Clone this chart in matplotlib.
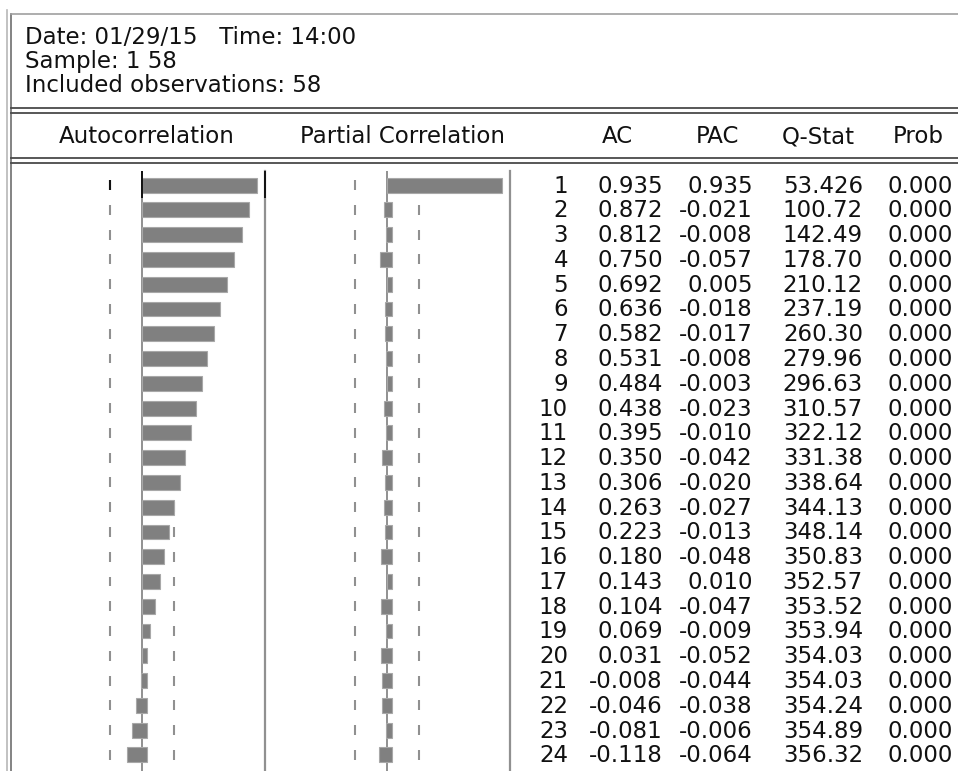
import numpy as np
import matplotlib
matplotlib.use("Agg")
import matplotlib.pyplot as plt

# ---------------- data ----------------
lags = list(range(1, 25))
ac = [0.935, 0.872, 0.812, 0.750, 0.692, 0.636, 0.582, 0.531, 0.484, 0.438,
      0.395, 0.350, 0.306, 0.263, 0.223, 0.180, 0.143, 0.104, 0.069, 0.031,
      -0.008, -0.046, -0.081, -0.118]
pac = [0.935, -0.021, -0.008, -0.057, 0.005, -0.018, -0.017, -0.008, -0.003, -0.023,
       -0.010, -0.042, -0.020, -0.027, -0.013, -0.048, 0.010, -0.047, -0.009, -0.052,
       -0.044, -0.038, -0.006, -0.064]
qstat = [53.426, 100.72, 142.49, 178.70, 210.12, 237.19, 260.30, 279.96, 296.63, 310.57,
         322.12, 331.38, 338.64, 344.13, 348.14, 350.83, 352.57, 353.52, 353.94, 354.03,
         354.03, 354.24, 354.89, 356.32]
prob = [0.000] * 24
n_obs = 58
header_lines = ["Date: 01/29/15   Time: 14:00", "Sample: 1 58", "Included observations: 58"]
col_titles = ["Autocorrelation", "Partial Correlation", "AC", "PAC", "Q-Stat", "Prob"]

# ---------------- style ----------------
plt.rcParams['font.family'] = ['DejaVu Sans']
FS = 16.5
W, H = 958, 771
BAR = "#808080"
EDGE = "#a8a8a8"
GRID = "#909090"
band = 2.0 / np.sqrt(n_obs)
ylim = (24.65, 0.43)
pad = 0.04

fig = plt.figure(figsize=(W / 100, H / 100), dpi=100)
fig.patch.set_facecolor("white")

# overlay for frame & header (pixel coordinates)
ov = fig.add_axes([0, 0, 1, 1], zorder=0)
ov.set_xlim(0, W)
ov.set_ylim(H, 0)
ov.axis("off")

ov.plot([7, 7], [10, H], color="#b8b8b8", lw=1.2)
ov.plot([11, 11], [14, H], color="#6e6e6e", lw=1.2)
ov.plot([7, W], [10, 10], color="#ffffff", lw=0)
ov.plot([11, W], [14, 14], color="#a0a0a0", lw=1.2)
for yy in (108, 113, 158, 162.5):
    ov.plot([11, W], [yy, yy], color="#4a4a4a", lw=1.3)

for i, t in enumerate(header_lines):
    ov.text(25, 44 + 24 * i, t, fontsize=FS, ha="left", va="baseline", color="#111111")

title_x = [147, 403, 617, 717, 818, 918]
for tx, t in zip(title_x, col_titles):
    ov.text(tx, 143, t, fontsize=FS, ha="center", va="baseline", color="#111111")


def panel(left_px, right_px, vals, first_black):
    top_px = 171
    ax = fig.add_axes([left_px / W, 0, (right_px - left_px) / W, (H - top_px) / H], zorder=2)
    ax.set_xlim(-1, 1)
    ax.set_ylim(*ylim)
    ax.axis("off")
    ax.patch.set_visible(False)
    # zero line and right separator
    ax.axvline(0, color=GRID, lw=1.4, zorder=1)
    ax.axvline(1, color=GRID, lw=1.6, zorder=1, clip_on=False)
    # confidence band dashes
    ax.vlines([-band] * len(lags), [l - 0.2 for l in lags], [l + 0.2 for l in lags],
              color=GRID, lw=1.5, zorder=1)
    ax.vlines([band] * len(lags), [l - 0.2 for l in lags], [l + 0.2 for l in lags],
              color=GRID, lw=1.5, zorder=1)
    if first_black:
        ax.vlines([-band], [lags[0] - 0.2], [lags[0] + 0.2], color="#111111", lw=1.5, zorder=3)
        ax.vlines([0, 1], [ylim[1]] * 2, [lags[0] + 0.5] * 2, color="#111111", lw=1.4,
                  zorder=3, clip_on=False)
    lefts = [min(v, 0.0) for v in vals]
    rights = [max(v, pad) for v in vals]
    widths = [r - l for l, r in zip(lefts, rights)]
    ax.barh(lags, widths, left=lefts, height=0.6, color=BAR, edgecolor=EDGE,
            linewidth=0.8, zorder=2)
    return ax


panel(19, 265, ac, True)
panel(264, 510, pac, False)

# table
tab = fig.add_axes([510 / W, 0, (W - 510) / W, (H - 171) / H], zorder=2)
tab.set_xlim(510, W)
tab.set_ylim(*ylim)
tab.axis("off")
tab.patch.set_visible(False)


def fq(q):
    return f"{q:.3f}" if q < 100 else f"{q:.2f}"


col_right = [568, 663, 753, 863, 953]
for i, l in enumerate(lags):
    cells = [str(l), f"{ac[i]:.3f}", f"{pac[i]:.3f}", fq(qstat[i]), f"{prob[i]:.3f}"]
    for xr, s in zip(col_right, cells):
        tab.text(xr, l + 0.3, s, fontsize=FS, ha="right", va="baseline", color="#111111")

fig.savefig("out.png", dpi=100, facecolor="white")
